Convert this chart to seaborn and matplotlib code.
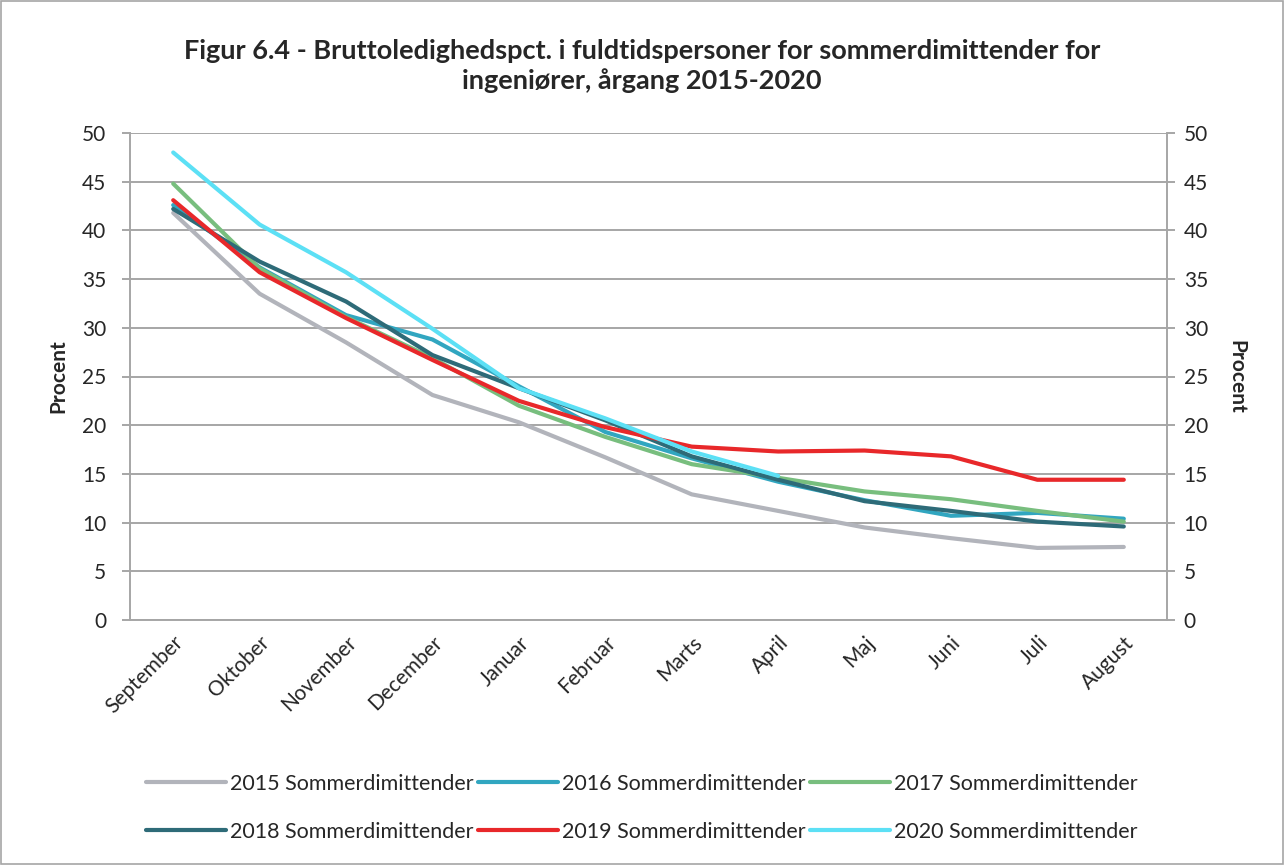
import numpy as np
import pandas as pd
import matplotlib
matplotlib.use("Agg")
import matplotlib.pyplot as plt
import seaborn as sns

# Data
months = ["September", "Oktober", "November", "December", "Januar", "Februar",
          "Marts", "April", "Maj", "Juni", "Juli", "August"]
y2015 = [41.8, 33.5, 28.5, 23.1, 20.3, 16.7, 12.9, 11.2, 9.5, 8.4, 7.4, 7.5]
y2016 = [42.6, 36.2, 31.3, 28.8, 24.0, 19.3, 16.6, 14.2, 12.3, 10.7, 11.0, 10.4]
y2017 = [44.8, 36.1, 31.1, 26.9, 22.0, 18.8, 16.0, 14.6, 13.2, 12.4, 11.2, 10.1]
y2018 = [42.2, 36.8, 32.7, 27.2, 23.8, 20.5, 16.8, 14.4, 12.2, 11.2, 10.1, 9.6]
y2019 = [43.1, 35.7, 31.0, 26.7, 22.5, 19.8, 17.8, 17.3, 17.4, 16.8, 14.4, 14.4]
y2020 = [48.0, 40.6, 35.7, 29.9, 23.8, 20.7, 17.3, 14.8, np.nan, np.nan, np.nan, np.nan]

series = {
    "2015 Sommerdimittender": y2015,
    "2016 Sommerdimittender": y2016,
    "2017 Sommerdimittender": y2017,
    "2018 Sommerdimittender": y2018,
    "2019 Sommerdimittender": y2019,
    "2020 Sommerdimittender": y2020,
}
colors = ["#B2B4BB", "#31A6C0", "#78BE7E", "#2E6B78", "#E8282A", "#5CE0F5"]

rows = []
for name, vals in series.items():
    for i, v in enumerate(vals):
        rows.append({"idx": i, "value": v, "serie": name})
df = pd.DataFrame(rows).dropna()

sns.set_style("white")
plt.rcParams["font.family"] = ["Lato", "DejaVu Sans"]

fig = plt.figure(figsize=(12.84, 8.65), dpi=100)
ax = fig.add_axes([130 / 1284, 1 - 620 / 865, (1167 - 130) / 1284, (620 - 133) / 865])

sns.lineplot(data=df, x="idx", y="value", hue="serie", palette=colors,
             linewidth=3, ax=ax, legend=True, sort=False)

grid_c = "#A6A6A6"
ax.set_xlim(-0.5, 11.5)
ax.set_ylim(0, 50)
ax.set_yticks(range(0, 51, 5))
ax.yaxis.grid(True, color=grid_c, linewidth=1.4)
ax.set_axisbelow(True)
for s in ["left", "right", "bottom"]:
    ax.spines[s].set_color(grid_c)
    ax.spines[s].set_linewidth(1.4)
ax.spines["top"].set_visible(False)

ax.set_xticks(range(12))
ax.set_xticklabels(months, rotation=45, ha="right", rotation_mode="anchor", fontsize=15)
ax.tick_params(axis="x", which="major", length=0, pad=9)
ax.set_xticks(np.arange(-0.5, 12, 1), minor=True)
ax.tick_params(axis="x", which="minor", length=6, color=grid_c, width=1.4)
ax.tick_params(axis="y", length=6, color=grid_c, width=1.4, labelsize=15, left=True, pad=11)
ax.set_xlabel("")
ax.set_ylabel("Procent", fontsize=15, fontweight="bold", labelpad=10)

ax2 = ax.twinx()
ax2.set_ylim(0, 50)
ax2.set_yticks(range(0, 51, 5))
ax2.tick_params(axis="y", length=6, color=grid_c, width=1.4, labelsize=15, right=True, pad=6)
for s in ax2.spines.values():
    s.set_visible(False)
ax2.set_ylabel("Procent", fontsize=15, fontweight="bold", rotation=-90, labelpad=28)

# legend filled row by row (matplotlib fills columns first)
handles, labels = ax.get_legend_handles_labels()
ax.get_legend().remove()
order = [0, 3, 1, 4, 2, 5]
fig.legend([handles[i] for i in order], [labels[i] for i in order],
           loc="center", bbox_to_anchor=(0.5, 1 - 808 / 865), ncol=3,
           frameon=False, fontsize=15.5, handlelength=3.7, handletextpad=0.2,
           columnspacing=0.2, labelspacing=1.3)

fig.text(0.5, 1 - 66 / 865,
         "Figur 6.4 - Bruttoledighedspct. i fuldtidspersoner for sommerdimittender for\ningeniører, årgang 2015-2020",
         ha="center", va="center", fontsize=19.5, fontweight="bold", linespacing=1.25)

fig.patches.append(plt.Rectangle((0.001, 0.001), 0.998, 0.998, transform=fig.transFigure,
                                 fill=False, edgecolor="#A6A6A6", linewidth=1.2))

fig.savefig("out.png", dpi=100)
